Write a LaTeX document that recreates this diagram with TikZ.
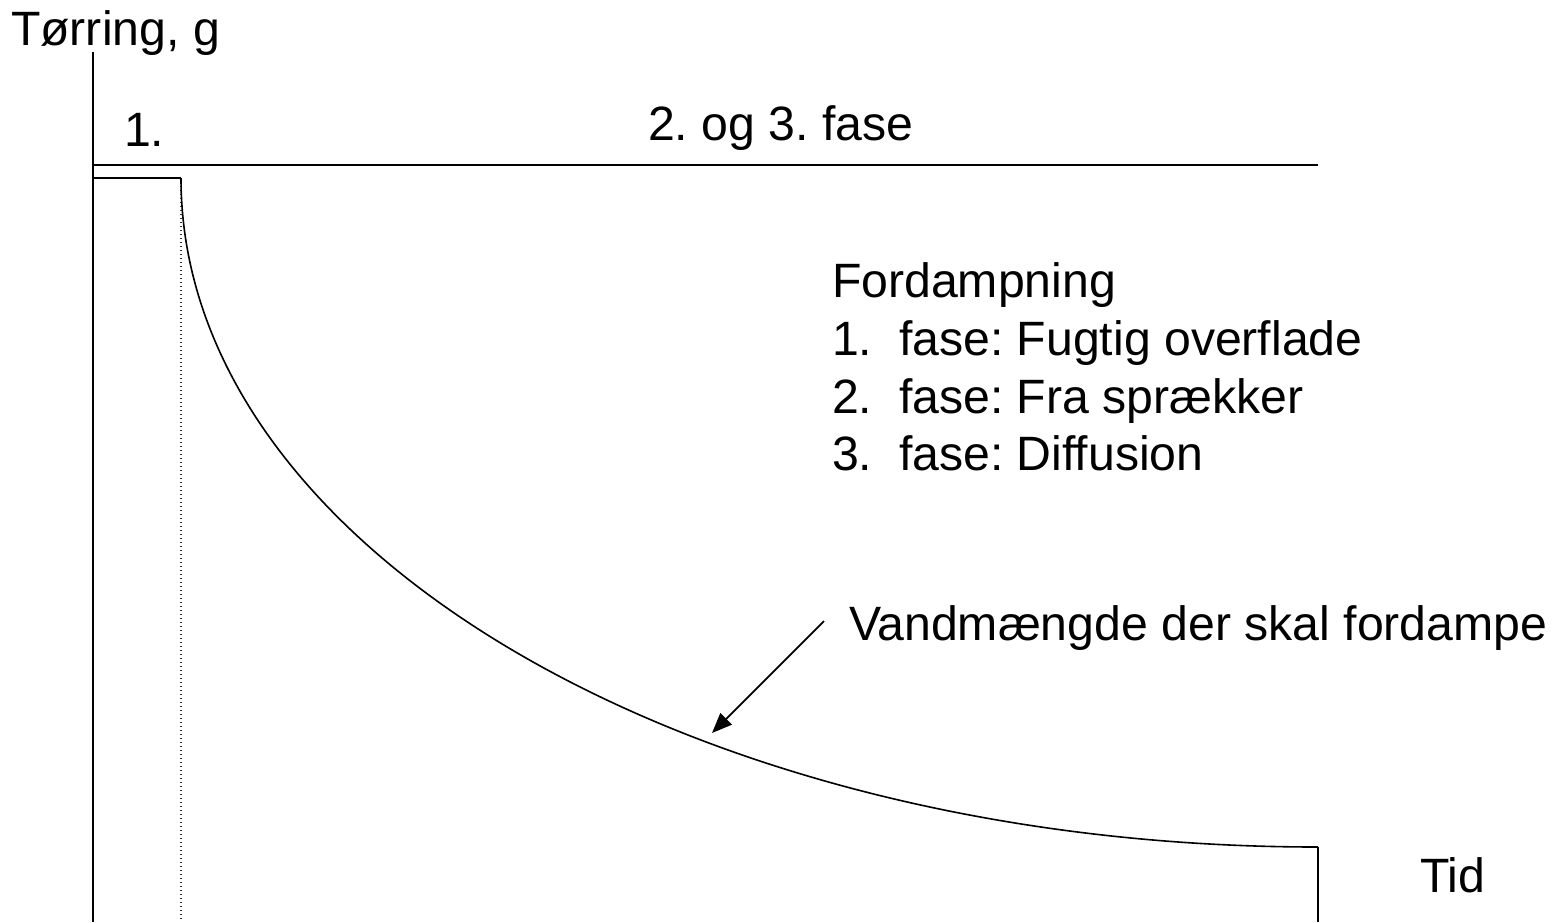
\documentclass[tikz,border=0pt]{standalone}
\usepackage{fontspec}
\setmainfont{Liberation Sans}
\usetikzlibrary{arrows.meta}
\frenchspacing
\begin{document}
\begin{tikzpicture}[x=0.5pt,y=-0.5pt,
  lbl/.style={anchor=base west,inner sep=0pt,outer sep=0pt,font=\fontsize{24.1}{28}\selectfont},
  axisline/.style={line width=1pt,black},
  curveline/.style={line width=0.8pt,black},
  dotline/.style={line width=0.8pt,black!80,dash pattern=on 0.6pt off 1.4pt},
  pointer/.style={line width=0.9pt,-{Triangle[length=10pt,width=8pt]}}]
\useasboundingbox (0,0) rectangle (1552,922);
% coordinates
\coordinate (ytop) at (93,52);
\coordinate (ybot) at (93,922);
\coordinate (hl) at (93,165);
\coordinate (hr) at (1318,165);
\coordinate (s0) at (93,178);
\coordinate (s1) at (181,178);
\coordinate (d1) at (181,920);
\coordinate (e1) at (1318,847);
\coordinate (e2) at (1318,922);
\coordinate (aS) at (824,621);
\coordinate (aT) at (712,733);
% axis and lines
\draw[axisline] (ytop) -- (ybot);
\draw[axisline] (hl) -- (hr);
\draw[axisline] (s0) -- (s1);
\draw[dotline] (s1) -- (d1);
\draw[curveline] (s1) arc[start angle=180, end angle=90, x radius=1137, y radius=669];
\draw[axisline] (e1) -- (e2);
\draw[pointer] (aS) -- (aT);
% labels
\node[lbl] (ylab) at (11,45) {Tørring, g};
\node[lbl] (f1) at (124,146) {1.};
\node[lbl] (f23) at (648,140) {2. og 3. fase};
\node[lbl] (ford) at (832,297) {Fordampning};
\node[lbl] (n1) at (832,355) {1.};
\node[lbl] (t1) at (899,355) {fase: Fugtig overflade};
\node[lbl] (n2) at (832,413) {2.};
\node[lbl] (t2) at (899,413) {fase: Fra sprækker};
\node[lbl] (n3) at (832,470) {3.};
\node[lbl] (t3) at (899,470) {fase: Diffusion};
\node[lbl] (vand) at (849,640) {Vandmængde der skal fordampe};
\node[lbl] (tid) at (1420,892) {Tid};
\end{tikzpicture}
\end{document}
